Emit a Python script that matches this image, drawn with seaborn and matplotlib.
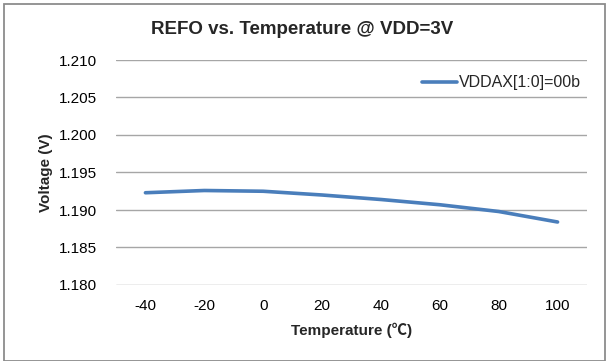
import matplotlib
matplotlib.use("Agg")
import matplotlib.pyplot as plt
import seaborn as sns
import pandas as pd
from matplotlib.patches import Rectangle

# Reference output voltage vs. temperature
temperatures = ["-40", "-20", "0", "20", "40", "60", "80", "100"]
voltage = [1.1923, 1.1926, 1.1925, 1.1920, 1.1914, 1.1907, 1.1898, 1.1884]
series_name = "VDDAX[1:0]=00b"
y_ticks = [1.180, 1.185, 1.190, 1.195, 1.200, 1.205, 1.210]

df = pd.DataFrame({"Temperature": temperatures, "Voltage": voltage,
                   "Series": series_name})

sns.set_theme(style="white")
plt.rcParams["font.family"] = ["Liberation Sans", "DejaVu Sans"]

fig = plt.figure(figsize=(6.09, 3.61), dpi=100)
ax = fig.add_axes([116 / 609, 1 - 285 / 361, (587 - 116) / 609, (285 - 60) / 361])

sns.lineplot(data=df, x="Temperature", y="Voltage", hue="Series",
             palette=["#4A7EBB"], linewidth=2.6, ax=ax, sort=False)

ax.set_xlim(-0.5, len(temperatures) - 0.5)
ax.set_ylim(y_ticks[0], y_ticks[-1])
ax.set_yticks(y_ticks)
ax.set_yticklabels([f"{v:.3f}" for v in y_ticks])
ax.yaxis.grid(True, color="#A6A6A6", linewidth=1.0)
ax.set_axisbelow(True)
for side in ["left", "right", "top", "bottom"]:
    ax.spines[side].set_visible(False)
ax.tick_params(axis="both", length=0, labelsize=11, colors="#000000")
ax.tick_params(axis="y", pad=14)
ax.tick_params(axis="x", pad=10)

ax.set_xlabel("Temperature (℃)", fontsize=11, fontweight="bold",
              family=["Liberation Sans", "Noto Sans CJK SC", "DejaVu Sans"],
              labelpad=7)
ax.set_ylabel("Voltage (V)", fontsize=11, fontweight="bold", labelpad=4)

leg = ax.legend(loc="upper right", bbox_to_anchor=(1.0, 0.96), frameon=False,
                fontsize=11.5, handlelength=2.2, handletextpad=0.1,
                borderaxespad=0.0)

fig.text(302 / 609, 1 - 29 / 361, "REFO vs. Temperature @ VDD=3V",
         ha="center", va="center", fontsize=13.5, fontweight="bold")

# Chart frame
fig.patches.append(Rectangle((3.5 / 609, 0.5 / 361), 601 / 609, 357 / 361,
                             transform=fig.transFigure, fill=False,
                             edgecolor="#8C8C8C", linewidth=1.3))

fig.savefig("out.png", dpi=100)
